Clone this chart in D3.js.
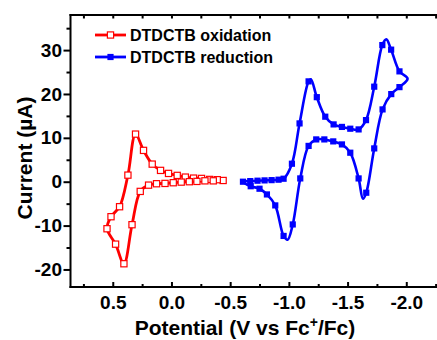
<!DOCTYPE html>
<html>
<head>
<meta charset="utf-8">
<script src="https://cdn.jsdelivr.net/npm/d3@7/dist/d3.min.js"></script>
<style>
  body { margin: 0; background: #fff; }
  svg { display: block; font-family: "Liberation Sans", Arial, sans-serif; font-weight: bold; }
</style>
</head>
<body>
<svg id="chart" width="437" height="340"></svg>
<script>
// Cyclic voltammograms of DTDCTB (potential in V vs Fc+/Fc, current in µA)

// Oxidation scan: closed loop, starting at the -0.44 V turning point
const oxPotential = [-0.44, -0.39, -0.325, -0.256, -0.188, -0.118, -0.049, 0.025, 0.093, 0.164,
  0.238, 0.306, 0.371, 0.442, 0.515, 0.549, 0.476, 0.405, 0.336, 0.266,
  0.195, 0.127, 0.055, -0.015, -0.083, -0.152, -0.217, -0.285, -0.356];
const oxCurrent = [0.28, 0.46, 0.52, 0.75, 0.82, 1.05, 1.44, 1.89, 2.58, 4.01,
  7.14, 10.85, 1.50, -5.70, -7.98, -10.72, -14.23, -18.70, -9.80, -2.21,
  -0.78, -0.46, -0.39, -0.23, -0.09, 0.0, 0.07, 0.2, 0.2];
const oxMarker = [1, 1, 1, 1, 1, 1, 1, 1, 1, 1, 1, 1, 1, 1, 1, 1, 1, 1, 1, 1,
  1, 1, 1, 1, 1, 1, 1, 1, 1];

// Reduction scan: closed loop, starting at -0.61 V
const redPotential = [-0.609, -0.671, -0.733, -0.793, -0.853, -0.912, -0.955, -1.026, -1.091, -1.168,
  -1.188, -1.238, -1.310, -1.381, -1.452, -1.523, -1.594, -1.657, -1.727, -1.796,
  -1.830, -1.871, -1.942, -2.011, -1.942, -1.872, -1.798, -1.727, -1.659, -1.631,
  -1.594, -1.523, -1.452, -1.378, -1.302, -1.233, -1.168, -1.097, -1.033, -0.989,
  -0.955, -0.884, -0.813, -0.750, -0.675];
const redCurrent = [0.0, 0.14, 0.23, 0.30, 0.36, 0.46, 0.68, 4.10, 13.29, 22.87,
  23.32, 19.27, 14.82, 13.06, 12.49, 12.08, 11.92, 14.04, 21.66, 31.14,
  32.44, 30.1, 25.15, 23.48, 21.56, 19.97, 16.48, 7.59, -2.51, -3.88,
  0.75, 6.61, 8.50, 9.19, 9.64, 9.64, 8.16, 0.75, -9.74, -13.22,
  -12.36, -5.40, -2.90, -1.60, -1.03];
const redMarker = [1, 1, 1, 1, 1, 1, 1, 1, 1, 1,
  0, 1, 1, 1, 1, 1, 1, 1, 1, 1,
  0, 1, 1, 0, 1, 1, 1, 1, 1, 0,
  1, 1, 1, 1, 1, 1, 1, 1, 1, 0,
  1, 1, 1, 1, 1];

const seriesNames = ["DTDCTB oxidation", "DTDCTB reduction"];
const seriesColors = ["#ff0000", "#0000ff"];

const xTickValues = [0.5, 0.0, -0.5, -1.0, -1.5, -2.0];
const xTickLabels = ["0.5", "0.0", "-0.5", "-1.0", "-1.5", "-2.0"];
const xMinorValues = [0.75, 0.25, -0.25, -0.75, -1.25, -1.75, -2.25];
const yTickValues = [-20, -10, 0, 10, 20, 30];
const yTickLabels = ["-20", "-10", "0", "10", "20", "30"];
const yMinorValues = [-15, -5, 5, 15, 25, 35];

const svg = d3.select("#chart");
const plotLeft = 70.5, plotRight = 441.5, plotTop = 15, plotBottom = 287;

const x = d3.scaleLinear().domain([0.86, -2.3]).range([plotLeft, plotRight]);
const y = d3.scaleLinear().domain([-24, 38]).range([plotBottom, plotTop]);

// ---- axes ----
function styleAxis(g) {
  g.select(".domain").remove();
  g.selectAll("line").attr("stroke", "#000").attr("stroke-width", 2);
  g.attr("font-family", null).attr("font-size", null);
  g.selectAll("text").attr("font-family", "'Liberation Sans', Arial, sans-serif")
    .attr("font-weight", "bold").attr("font-size", 19).attr("fill", "#000");
}

// bottom: inward ticks with labels
svg.append("g").attr("transform", `translate(0,${plotBottom})`)
  .call(d3.axisBottom(x).tickValues(xTickValues)
    .tickFormat((d, i) => xTickLabels[i]).tickSizeInner(-5).tickSizeOuter(0).tickPadding(8.5))
  .call(styleAxis);
svg.append("g").attr("transform", `translate(0,${plotBottom})`)
  .call(d3.axisBottom(x).tickValues(xMinorValues).tickFormat("").tickSizeInner(-3).tickSizeOuter(0))
  .call(styleAxis);

// top: inward ticks, no labels
svg.append("g").attr("transform", `translate(0,${plotTop})`)
  .call(d3.axisTop(x).tickValues(xTickValues.concat(xMinorValues)).tickFormat("")
    .tickSizeInner(-3.5).tickSizeOuter(0))
  .call(styleAxis);

// left: outward ticks with labels
svg.append("g").attr("transform", `translate(${plotLeft},0)`)
  .call(d3.axisLeft(y).tickValues(yTickValues)
    .tickFormat((d, i) => yTickLabels[i]).tickSizeInner(7).tickSizeOuter(0).tickPadding(1.5))
  .call(styleAxis);
svg.append("g").attr("transform", `translate(${plotLeft},0)`)
  .call(d3.axisLeft(y).tickValues(yMinorValues).tickFormat("").tickSizeInner(4).tickSizeOuter(0))
  .call(styleAxis);

// frame
const frame = svg.append("g").attr("stroke", "#000").attr("stroke-width", 2).attr("fill", "none");
frame.append("line").attr("x1", plotLeft).attr("x2", plotLeft).attr("y1", plotTop - 1).attr("y2", plotBottom + 1);
frame.append("line").attr("x1", plotLeft - 1).attr("x2", plotRight).attr("y1", plotTop).attr("y2", plotTop);
frame.append("line").attr("x1", plotLeft - 1).attr("x2", plotRight).attr("y1", plotBottom).attr("y2", plotBottom);
frame.append("line").attr("x1", plotRight).attr("x2", plotRight).attr("y1", plotTop).attr("y2", plotBottom);

// ---- data ----
const ox = oxPotential.map((v, i) => ({ v, c: oxCurrent[i], m: oxMarker[i] }));
const red = redPotential.map((v, i) => ({ v, c: redCurrent[i], m: redMarker[i] }));

const line = d3.line().x(d => x(d.v)).y(d => y(d.c))
  .curve(d3.curveCatmullRomClosed.alpha(0.5));

const plot = svg.append("g");
const ms = 6.2;

plot.append("path").datum(red).attr("d", line)
  .attr("fill", "none").attr("stroke", seriesColors[1]).attr("stroke-width", 2.6)
  .attr("stroke-linejoin", "round");
plot.append("g").selectAll("rect").data(red.filter(d => d.m)).join("rect")
  .attr("x", d => x(d.v) - ms / 2).attr("y", d => y(d.c) - ms / 2)
  .attr("width", ms).attr("height", ms).attr("fill", seriesColors[1]);

plot.append("path").datum(ox).attr("d", line)
  .attr("fill", "none").attr("stroke", seriesColors[0]).attr("stroke-width", 2.8)
  .attr("stroke-linejoin", "round");
plot.append("g").selectAll("rect").data(ox.filter(d => d.m)).join("rect")
  .attr("x", d => x(d.v) - ms / 2).attr("y", d => y(d.c) - ms / 2)
  .attr("width", ms).attr("height", ms)
  .attr("fill", "#fff").attr("stroke", seriesColors[0]).attr("stroke-width", 1.2);

// ---- legend ----
const legend = svg.append("g");
seriesNames.forEach((name, i) => {
  const ly = 35 + i * 22;
  legend.append("line").attr("x1", 95).attr("x2", 126).attr("y1", ly).attr("y2", ly)
    .attr("stroke", seriesColors[i]).attr("stroke-width", 2.8);
  legend.append("rect").attr("x", 110.5 - ms / 2).attr("y", ly - ms / 2)
    .attr("width", ms).attr("height", ms)
    .attr("fill", i === 0 ? "#fff" : seriesColors[i])
    .attr("stroke", i === 0 ? seriesColors[i] : "none").attr("stroke-width", 1.2);
  legend.append("text").attr("x", 130).attr("y", ly + 5.7)
    .attr("font-size", 16).attr("fill", "#000").text(name);
});

// ---- axis titles ----
const xt = svg.append("text").attr("x", 245).attr("y", 335)
  .attr("text-anchor", "middle").attr("font-size", 21).attr("fill", "#000");
xt.append("tspan").text("Potential (V vs Fc");
xt.append("tspan").attr("font-size", 14).attr("dy", -8).text("+");
xt.append("tspan").attr("dy", 8).text("/Fc)");

svg.append("text").attr("transform", "translate(31.5,158) rotate(-90)")
  .attr("text-anchor", "middle").attr("font-size", 21).attr("fill", "#000")
  .text("Current (µA)");
</script>
</body>
</html>
